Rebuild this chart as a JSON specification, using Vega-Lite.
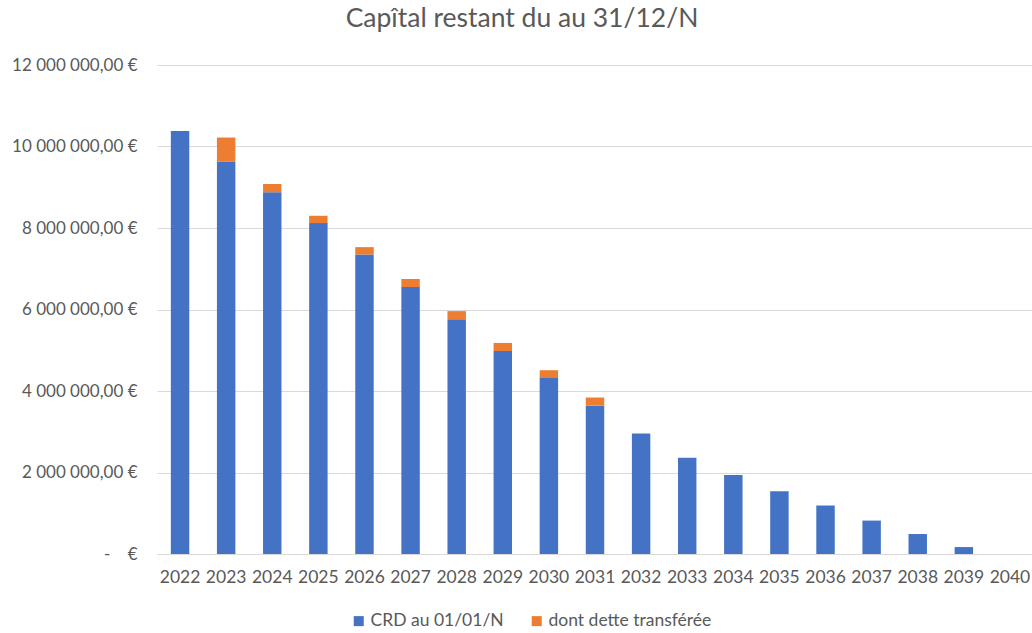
{
  "$schema": "https://vega.github.io/schema/vega-lite/v6.json",
  "width": 876,
  "height": 489,
  "autosize": "none",
  "padding": {"left": 157, "top": 65, "right": 0, "bottom": 79},
  "background": "white",
  "config": {
    "locale": {"number": {"decimal": ",", "thousands": " ", "grouping": [3], "currency": ["", " €"]}},
    "font": "Lato",
    "view": {"stroke": null}
  },
  "title": {
    "text": "Capîtal restant du au 31/12/N",
    "fontSize": 26.5,
    "fontWeight": "normal",
    "color": "#595959",
    "font": "Lato",
    "anchor": "middle",
    "dx": -73,
    "offset": 24
  },
  "data": {
    "values": [
      {"year": "2022", "serie": "CRD au 01/01/N", "ord": 1, "value": 10380000},
      {"year": "2023", "serie": "CRD au 01/01/N", "ord": 1, "value": 9630000},
      {"year": "2024", "serie": "CRD au 01/01/N", "ord": 1, "value": 8880000},
      {"year": "2025", "serie": "CRD au 01/01/N", "ord": 1, "value": 8120000},
      {"year": "2026", "serie": "CRD au 01/01/N", "ord": 1, "value": 7350000},
      {"year": "2027", "serie": "CRD au 01/01/N", "ord": 1, "value": 6550000},
      {"year": "2028", "serie": "CRD au 01/01/N", "ord": 1, "value": 5760000},
      {"year": "2029", "serie": "CRD au 01/01/N", "ord": 1, "value": 4980000},
      {"year": "2030", "serie": "CRD au 01/01/N", "ord": 1, "value": 4340000},
      {"year": "2031", "serie": "CRD au 01/01/N", "ord": 1, "value": 3640000},
      {"year": "2032", "serie": "CRD au 01/01/N", "ord": 1, "value": 2960000},
      {"year": "2033", "serie": "CRD au 01/01/N", "ord": 1, "value": 2360000},
      {"year": "2034", "serie": "CRD au 01/01/N", "ord": 1, "value": 1940000},
      {"year": "2035", "serie": "CRD au 01/01/N", "ord": 1, "value": 1540000},
      {"year": "2036", "serie": "CRD au 01/01/N", "ord": 1, "value": 1190000},
      {"year": "2037", "serie": "CRD au 01/01/N", "ord": 1, "value": 820000},
      {"year": "2038", "serie": "CRD au 01/01/N", "ord": 1, "value": 490000},
      {"year": "2039", "serie": "CRD au 01/01/N", "ord": 1, "value": 170000},
      {"year": "2040", "serie": "CRD au 01/01/N", "ord": 1, "value": 0},
      {"year": "2022", "serie": "dont dette transférée", "ord": 2, "value": 0},
      {"year": "2023", "serie": "dont dette transférée", "ord": 2, "value": 590000},
      {"year": "2024", "serie": "dont dette transférée", "ord": 2, "value": 200000},
      {"year": "2025", "serie": "dont dette transférée", "ord": 2, "value": 180000},
      {"year": "2026", "serie": "dont dette transférée", "ord": 2, "value": 180000},
      {"year": "2027", "serie": "dont dette transférée", "ord": 2, "value": 200000},
      {"year": "2028", "serie": "dont dette transférée", "ord": 2, "value": 200000},
      {"year": "2029", "serie": "dont dette transférée", "ord": 2, "value": 200000},
      {"year": "2030", "serie": "dont dette transférée", "ord": 2, "value": 170000},
      {"year": "2031", "serie": "dont dette transférée", "ord": 2, "value": 200000},
      {"year": "2032", "serie": "dont dette transférée", "ord": 2, "value": 0},
      {"year": "2033", "serie": "dont dette transférée", "ord": 2, "value": 0},
      {"year": "2034", "serie": "dont dette transférée", "ord": 2, "value": 0},
      {"year": "2035", "serie": "dont dette transférée", "ord": 2, "value": 0},
      {"year": "2036", "serie": "dont dette transférée", "ord": 2, "value": 0},
      {"year": "2037", "serie": "dont dette transférée", "ord": 2, "value": 0},
      {"year": "2038", "serie": "dont dette transférée", "ord": 2, "value": 0},
      {"year": "2039", "serie": "dont dette transférée", "ord": 2, "value": 0},
      {"year": "2040", "serie": "dont dette transférée", "ord": 2, "value": 0}
    ]
  },
  "mark": {"type": "bar"},
  "encoding": {
    "x": {
      "field": "year",
      "type": "ordinal",
      "title": null,
      "scale": {"paddingInner": 0.6, "paddingOuter": 0.3},
      "axis": {
        "labelAngle": 0,
        "labelFontSize": 17.5,
        "labelColor": "#595959",
        "labelPadding": 14,
        "ticks": false,
        "domainColor": "#d9d9d9",
        "domainWidth": 1
      }
    },
    "y": {
      "field": "value",
      "type": "quantitative",
      "stack": "zero",
      "title": null,
      "scale": {"domain": [0, 12000000]},
      "axis": {
        "values": [0, 2000000, 4000000, 6000000, 8000000, 10000000, 12000000],
        "labelExpr": "datum.value == 0 ? '-\u00a0\u00a0\u00a0\u00a0€' : format(datum.value, ',.2f') + ' €'",
        "labelFontSize": 17,
        "labelColor": "#595959",
        "labelPadding": 20,
        "ticks": false,
        "domain": false,
        "gridColor": "#d9d9d9",
        "gridWidth": 1
      }
    },
    "color": {
      "field": "serie",
      "type": "nominal",
      "scale": {"domain": ["CRD au 01/01/N", "dont dette transférée"], "range": ["#4472C4", "#ED7D31"]},
      "legend": {
        "title": null,
        "orient": "none",
        "direction": "horizontal",
        "legendX": 193,
        "legendY": 547,
        "symbolType": "square",
        "symbolSize": 100,
        "symbolStrokeWidth": 0,
        "labelFontSize": 17.5,
        "labelLimit": 400,
        "labelColor": "#595959",
        "columnPadding": 24,
        "labelOffset": 3
      }
    },
    "order": {"field": "ord", "type": "quantitative"}
  }
}
